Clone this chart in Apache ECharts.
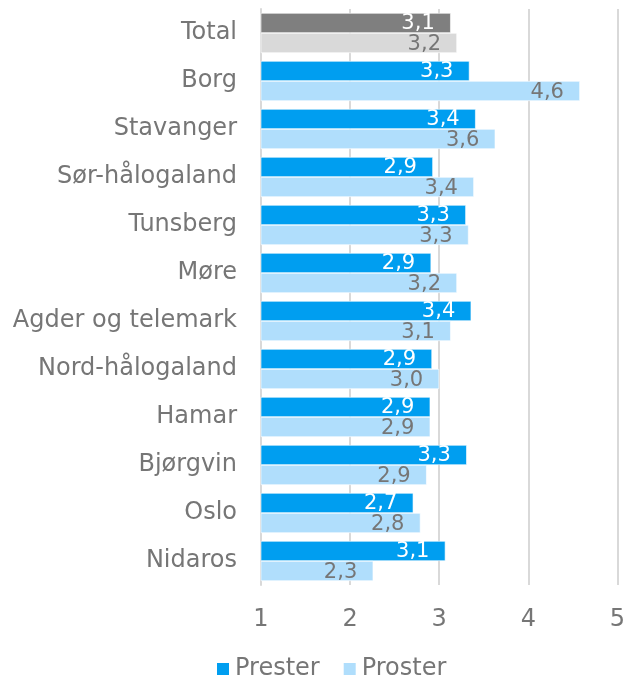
<!DOCTYPE html>
<html><head><meta charset="utf-8">
<script src="https://cdn.jsdelivr.net/npm/echarts@6/dist/echarts.min.js"></script>
<style>html,body{margin:0;padding:0;background:#fff}#c{width:628px;height:681px}</style>
</head><body><div id="c"></div>
<script>
const categories = ["Total","Borg","Stavanger","Sør-hålogaland","Tunsberg","Møre","Agder og telemark","Nord-hålogaland","Hamar","Bjørgvin","Oslo","Nidaros"];
const prester = [3.13,3.34,3.41,2.93,3.30,2.91,3.36,2.92,2.90,3.31,2.71,3.07];
const proster = [3.20,4.58,3.63,3.39,3.33,3.20,3.13,3.00,2.90,2.86,2.79,2.26];
const xTicks = [1,2,3,4,5];

const FONT = 'DejaVu Sans';
const fmt = p => p.value.toFixed(1).replace('.', ',');
function mk(vals, totalColor) {
  return vals.map((v, i) => i === 0 ? {value: v, itemStyle: {color: totalColor}} : v);
}
const chart = echarts.init(document.getElementById('c'));
chart.setOption({
  animation: false,
  textStyle: {fontFamily: FONT},
  grid: {left: 261, right: 8, top: 9, bottom: 96, containLabel: false},
  legend: {
    top: 652, left: 210, itemWidth: 14, itemHeight: 14, itemGap: 22,
    icon: 'rect',
    textStyle: {fontSize: 24, color: '#767676', fontFamily: FONT},
    data: ['Prester', 'Proster']
  },
  xAxis: {
    type: 'value', min: xTicks[0], max: xTicks[xTicks.length - 1], interval: 1,
    axisLine: {show: false}, axisTick: {show: false},
    splitLine: {show: true, lineStyle: {color: '#d9d9d9', width: 2}},
    axisLabel: {fontSize: 24, color: '#767676', margin: 23, fontFamily: FONT}
  },
  yAxis: {
    type: 'category', data: categories, inverse: true,
    axisLine: {show: true, lineStyle: {color: '#d9d9d9', width: 2}},
    axisTick: {show: false},
    axisLabel: {fontSize: 24, color: '#767676', margin: 24, fontFamily: FONT}
  },
  series: [
    {
      name: 'Prester', type: 'bar', data: mk(prester, '#7f7f7f'),
      barGap: '0%', barCategoryGap: '16.7%',
      itemStyle: {color: '#009ef0', borderColor: '#ffffff', borderWidth: 0.6},
      label: {show: true, position: 'insideRight', distance: 16, formatter: fmt,
        color: '#ffffff', fontSize: 21, fontFamily: FONT, offset: [0, 1]}
    },
    {
      name: 'Proster', type: 'bar', data: mk(proster, '#d9d9d9'),
      itemStyle: {color: '#b0defc', borderColor: '#ffffff', borderWidth: 0.6},
      label: {show: true, position: 'insideRight', distance: 16, formatter: fmt,
        color: '#767676', fontSize: 21, fontFamily: FONT, offset: [0, 2]}
    }
  ]
});
</script></body></html>
